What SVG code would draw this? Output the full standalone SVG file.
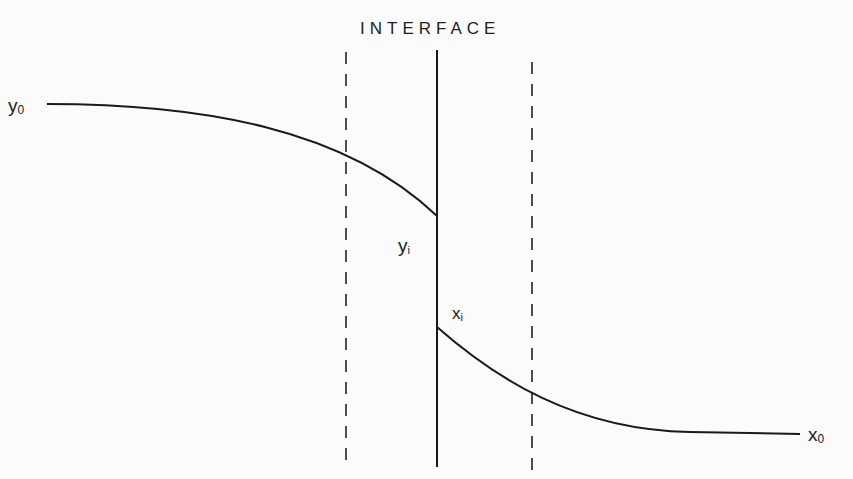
<svg xmlns="http://www.w3.org/2000/svg" width="853" height="479" viewBox="0 0 853 479">
<style>
.t{font-family:"Liberation Sans",Arial,sans-serif;fill:#222}
.curve{fill:none;stroke:#1a1a1a;stroke-width:2}
.dash{stroke:#222;stroke-width:1.6;stroke-dasharray:12 10}
</style>
<rect width="853" height="479" fill="#fafbfa"/>
<g id="interface">
<text class="t" x="360" y="34" font-size="17" letter-spacing="5">INTERFACE</text>
<line x1="437" y1="50" x2="437" y2="467" stroke="#1a1a1a" stroke-width="2"/>
</g>
<g id="film-left"><line class="dash" x1="346" y1="52" x2="346" y2="470"/></g>
<g id="film-right"><line class="dash" x1="532" y1="62" x2="532" y2="479"/></g>
<g id="connectors">
<path class="curve" d="M47,104 C200,104 345,128 437,216"/>
<path class="curve" d="M437,327 C495,378 575,430 690,432 L800,434"/>
</g>
<g id="y0"><text class="t" x="8" y="112" font-size="19">y<tspan font-size="12" dy="2">0</tspan></text></g>
<g id="yi"><text class="t" x="398" y="252" font-size="19">y<tspan font-size="11" dy="2">i</tspan></text></g>
<g id="xi"><text class="t" x="452" y="319" font-size="17">x<tspan font-size="11" dy="2">i</tspan></text></g>
<g id="x0"><text class="t" x="808" y="441" font-size="19">x<tspan font-size="12" dy="2">0</tspan></text></g>
</svg>
